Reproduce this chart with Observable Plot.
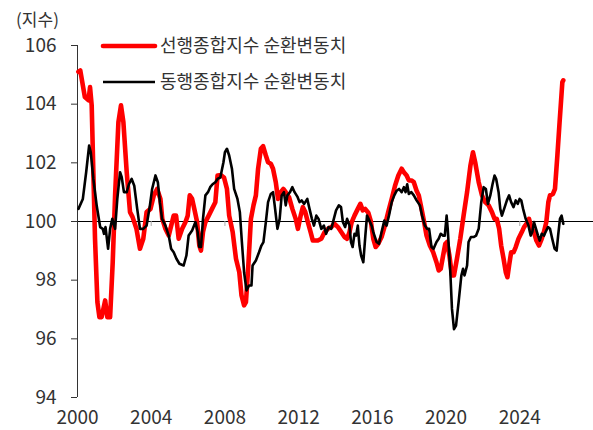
<!DOCTYPE html>
<html>
<head>
<meta charset="utf-8">
<script src="https://cdn.jsdelivr.net/npm/d3@7"></script>
<script src="https://cdn.jsdelivr.net/npm/@observablehq/plot@0.6"></script>
<style>
  html, body { margin: 0; padding: 0; background: #fff; }
  #wrap { position: relative; width: 593px; height: 430px; font-family: 'Noto Sans CJK KR', 'Noto Sans', sans-serif; }
  #legend { position: absolute; left: 0; top: 0; }
</style>
</head>
<body>
<div id="wrap"></div>
<script>
// ---- data (year as decimal, index value) ----
const unitLabel = "(지수)";
const leadName = "선행종합지수 순환변동치";
const coinName = "동행종합지수 순환변동치";
const xTicks = [2000, 2004, 2008, 2012, 2016, 2020, 2024];
const yTicks = [94, 96, 98, 100, 102, 104, 106];

const leadT = [2000.05,2000.15,2000.4,2000.6,2000.68,2000.77,2000.86,2000.95,2001.08,2001.19,2001.31,2001.5,2001.62,2001.77,2001.91,2002.04,2002.22,2002.36,2002.49,2002.67,2002.85,2002.99,2003.2,2003.39,2003.57,2003.75,2003.96,2004.14,2004.32,2004.5,2004.6,2004.77,2004.95,2005.22,2005.35,2005.49,2005.68,2005.86,2005.98,2006.09,2006.22,2006.34,2006.49,2006.61,2006.7,2006.81,2006.94,2007.12,2007.3,2007.48,2007.6,2007.78,2007.95,2008.11,2008.23,2008.42,2008.6,2008.78,2008.9,2009.04,2009.14,2009.26,2009.41,2009.55,2009.68,2009.8,2009.95,2010.07,2010.22,2010.34,2010.49,2010.61,2010.76,2010.88,2011.03,2011.17,2011.3,2011.48,2011.66,2011.84,2011.96,2012.11,2012.23,2012.36,2012.5,2012.65,2012.77,2013.04,2013.23,2013.41,2013.59,2013.77,2013.95,2014.13,2014.31,2014.49,2014.63,2014.76,2014.88,2015.03,2015.21,2015.35,2015.48,2015.61,2015.78,2015.92,2016.05,2016.18,2016.32,2016.5,2016.68,2016.86,2017.05,2017.23,2017.41,2017.59,2017.71,2017.86,2017.98,2018.12,2018.25,2018.4,2018.52,2018.67,2018.81,2018.94,2019.12,2019.3,2019.48,2019.6,2019.71,2019.84,2019.96,2020.05,2020.18,2020.32,2020.43,2020.59,2020.77,2020.95,2021.14,2021.32,2021.46,2021.58,2021.77,2021.95,2022.12,2022.31,2022.49,2022.63,2022.75,2022.88,2022.99,2023.12,2023.24,2023.33,2023.42,2023.53,2023.66,2023.78,2023.93,2024.11,2024.23,2024.36,2024.5,2024.65,2024.77,2024.9,2025.04,2025.19,2025.31,2025.44,2025.55,2025.64,2025.8,2025.91,2026.04,2026.16,2026.31,2026.36];
const leadV = [105.1,105.15,104.24,104.13,104.58,103.96,101.68,99.42,97.25,96.74,96.74,97.31,96.74,96.74,98.6,100.89,103.39,103.96,103.39,101.68,100.32,100.15,99.75,99.07,99.41,100.32,100.43,100.89,101.11,100.77,100.09,99.75,99.52,100.2,100.2,99.41,99.75,99.98,100.2,100.89,100.77,100.43,99.98,99.18,99.01,99.64,99.98,100.2,100.43,100.66,101.57,101.58,101.5,101.11,100.2,99.64,98.73,98.27,97.48,97.14,97.25,98.39,100.09,100.55,100.89,101.8,102.48,102.57,102.25,102.02,101.97,101.8,101.34,100.77,101.0,101.11,101.0,100.83,100.43,100.09,99.75,100.2,100.49,100.32,99.98,99.64,99.35,99.35,99.41,99.64,99.75,99.81,99.92,99.81,99.64,99.47,99.41,99.64,99.98,100.2,100.43,100.6,100.38,100.43,100.3,100.0,99.41,99.13,99.24,99.47,99.86,100.32,100.77,101.22,101.57,101.8,101.68,101.57,101.4,101.4,101.34,101.05,100.89,100.43,99.98,99.52,99.18,98.95,98.61,98.33,98.39,98.84,99.24,99.3,98.84,98.16,98.16,98.73,99.41,100.2,101.0,101.9,102.36,102.02,101.34,100.89,100.66,100.55,100.32,100.09,100.09,99.75,99.18,98.73,98.27,98.1,98.5,98.95,98.95,99.13,99.41,99.64,99.81,99.92,100.09,99.75,99.64,99.35,99.18,99.41,99.64,99.98,100.66,100.89,100.94,101.11,102.25,103.39,104.75,104.81];

const coinT = [2000.05,2000.29,2000.47,2000.63,2000.72,2000.86,2001.04,2001.23,2001.37,2001.44,2001.52,2001.66,2001.77,2001.89,2002.04,2002.16,2002.31,2002.4,2002.52,2002.67,2002.79,2002.94,2003.08,2003.24,2003.39,2003.57,2003.75,2003.93,2004.05,2004.23,2004.36,2004.47,2004.59,2004.77,2004.95,2005.08,2005.22,2005.37,2005.53,2005.76,2005.91,2006.03,2006.22,2006.4,2006.52,2006.61,2006.7,2006.81,2006.94,2007.08,2007.2,2007.33,2007.48,2007.6,2007.75,2007.92,2008.0,2008.11,2008.23,2008.38,2008.5,2008.68,2008.81,2008.92,2009.04,2009.17,2009.31,2009.44,2009.5,2009.68,2009.85,2009.98,2010.09,2010.22,2010.34,2010.49,2010.61,2010.7,2010.85,2010.97,2011.08,2011.2,2011.3,2011.39,2011.53,2011.66,2011.78,2011.93,2012.05,2012.16,2012.3,2012.47,2012.59,2012.72,2012.83,2012.96,2013.08,2013.23,2013.37,2013.49,2013.62,2013.77,2013.91,2014.03,2014.18,2014.3,2014.4,2014.52,2014.63,2014.76,2014.84,2014.93,2015.03,2015.12,2015.21,2015.3,2015.39,2015.51,2015.62,2015.71,2015.84,2015.96,2016.05,2016.23,2016.36,2016.5,2016.65,2016.77,2016.9,2017.05,2017.19,2017.32,2017.45,2017.59,2017.71,2017.8,2017.89,2017.98,2018.12,2018.25,2018.4,2018.58,2018.7,2018.85,2018.97,2019.08,2019.21,2019.32,2019.48,2019.6,2019.71,2019.84,2019.93,2020.03,2020.09,2020.23,2020.32,2020.43,2020.54,2020.68,2020.83,2020.92,2021.0,2021.14,2021.22,2021.35,2021.49,2021.63,2021.77,2021.91,2022.04,2022.16,2022.27,2022.4,2022.52,2022.63,2022.72,2022.85,2022.94,2023.03,2023.15,2023.3,2023.42,2023.53,2023.66,2023.78,2023.89,2023.99,2024.08,2024.18,2024.32,2024.47,2024.59,2024.68,2024.77,2024.88,2024.99,2025.08,2025.19,2025.31,2025.4,2025.53,2025.64,2025.76,2025.89,2026.0,2026.08,2026.18,2026.27,2026.36];
const coinV = [100.43,100.77,101.68,102.59,102.36,101.45,100.55,99.81,99.75,99.58,99.81,99.07,99.75,100.09,99.75,100.77,101.68,101.51,101.0,101.0,101.27,101.45,101.22,100.43,99.75,99.75,99.86,100.55,101.11,101.57,101.34,100.66,100.09,99.86,99.52,99.07,98.95,98.73,98.56,98.5,98.84,99.52,99.69,99.98,99.64,99.13,99.13,100.09,100.89,101.0,101.17,101.27,101.34,101.45,101.5,102.02,102.36,102.48,102.25,101.8,101.11,100.77,100.32,99.3,98.27,97.65,97.82,97.82,98.5,98.67,98.95,99.18,99.3,99.98,100.66,100.94,101.0,100.55,99.75,100.09,100.89,101.0,100.55,100.89,101.0,101.17,101.0,100.85,100.66,100.72,100.6,100.77,100.43,100.09,99.86,100.2,100.09,99.75,99.86,99.58,99.81,99.75,100.09,100.38,100.55,100.49,99.98,99.81,100.09,99.86,99.3,99.13,99.58,99.52,99.86,99.18,98.84,98.61,99.52,100.2,100.03,99.86,99.64,99.3,99.24,99.64,100.03,99.86,100.2,100.66,100.89,101.05,101.11,101.0,101.17,101.0,101.27,100.94,101.0,100.89,100.72,100.55,100.2,99.86,99.75,99.75,99.13,99.07,99.3,99.41,99.58,99.52,99.52,100.2,99.75,98.27,97.02,96.33,96.45,97.25,98.16,98.39,98.16,98.5,99.3,99.47,99.47,99.52,99.75,100.66,101.17,101.11,100.6,100.89,101.27,101.57,101.45,101.0,100.43,100.2,100.43,100.72,100.89,100.66,100.49,100.72,100.6,100.77,100.72,100.43,100.09,99.86,99.52,99.64,99.98,99.75,99.52,99.35,99.58,99.52,99.64,99.81,99.75,99.41,99.07,99.01,99.52,100.09,100.2,99.92];

const lead = leadT.map((t, i) => ({t, v: leadV[i]}));
const coin = coinT.map((t, i) => ({t, v: coinV[i]}));

const FONT = "'Noto Sans CJK KR', 'Noto Sans', sans-serif";

const chart = Plot.plot({
  width: 593,
  height: 430,
  marginLeft: 77,
  marginRight: 0,
  marginTop: 45,
  marginBottom: 33,
  style: {fontFamily: FONT, color: "#333", background: "#fff"},
  x: {domain: [2000, 2028]},
  y: {domain: [94, 106]},
  marks: [
    Plot.ruleY([100], {stroke: "#000", strokeWidth: 1}),
    Plot.ruleX(xTicks.slice(1), {y1: 100, y2: 99.83, stroke: "#aaa", strokeWidth: 1}),
    Plot.axisY({ticks: yTicks, tickSize: 6, tickPadding: 15, fontSize: 19, label: null, tickFormat: d => String(d), stroke: "#333"}),
    Plot.ruleX([2000], {y1: 94, y2: 106, stroke: "#333", strokeWidth: 1}),
    Plot.axisX({ticks: xTicks, tickSize: 0, tickPadding: 13, fontSize: 19, label: null, tickFormat: d => String(d)}),
    Plot.line(lead, {x: "t", y: "v", stroke: "#ff0000", strokeWidth: 4.6, strokeLinejoin: "round", strokeLinecap: "round"}),
    Plot.line(coin, {x: "t", y: "v", stroke: "#000", strokeWidth: 2.6, strokeLinejoin: "round"}),
    Plot.text([unitLabel], {frameAnchor: "top-left", dx: -40, dy: -32, fontSize: 17, textAnchor: "middle", fill: "#333"})
  ]
});

const wrap = document.getElementById("wrap");
wrap.appendChild(chart);

// legend overlay
const lg = d3.select(wrap).append("svg")
  .attr("id", "legend").attr("width", 593).attr("height", 430)
  .style("pointer-events", "none");
const items = [
  {name: leadName, color: "#ff0000", w: 4.6, y: 46},
  {name: coinName, color: "#000", w: 2.6, y: 82}
];
items.forEach(it => {
  lg.append("line").attr("x1", 103).attr("x2", 155).attr("y1", it.y).attr("y2", it.y)
    .attr("stroke", it.color).attr("stroke-width", it.w).attr("stroke-linecap", it.w > 3 ? "round" : "butt");
  lg.append("text").attr("x", 160).attr("y", it.y).attr("dy", "0.35em")
    .attr("font-family", FONT).attr("font-size", 18).attr("fill", "#333").text(it.name);
});
</script>
</body>
</html>
